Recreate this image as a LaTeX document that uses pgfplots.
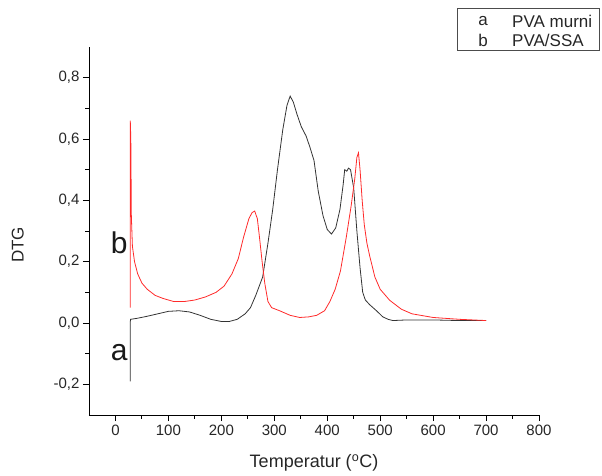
\documentclass[border=0pt]{standalone}
\usepackage{pgfplots}
\pgfplotsset{compat=1.18}
\usetikzlibrary{calc}
\usepackage{fontspec}
\setmainfont{Liberation Sans}
\definecolor{cb}{HTML}{333333}
\definecolor{cr}{HTML}{FF2A2A}
\begin{document}
\begin{tikzpicture}[x=1pt,y=1pt]
\begin{axis}[
  scale only axis, width=450pt, height=368pt,
  xmin=-50, xmax=800, ymin=-0.3, ymax=0.9,
  axis x line*=bottom, axis y line*=left,
  axis line style={line width=0.9pt, black},
  tick align=outside,
  major tick length=6pt, minor tick length=3.5pt,
  every tick/.style={line width=0.9pt, black},
  xtick={0,100,...,800}, minor x tick num=1,
  ytick={-0.2,0,0.2,0.4,0.6,0.8}, minor y tick num=1,
  /pgf/number format/assume math mode=true,
  yticklabel style={/pgf/number format/.cd, fixed, fixed zerofill, precision=1, use comma},
  xticklabel style={/pgf/number format/.cd, fixed, precision=0},
  tick label style={font=\fontsize{15}{17}\selectfont, text=black!85},
  xlabel={Temperatur (\textsuperscript{o}C)},
  ylabel={DTG},
  xlabel style={font=\fontsize{18}{20}\selectfont, at={(rel axis cs:0.50,-0.13)}, anchor=center, text=black!85},
  ylabel style={font=\fontsize{17}{19}\selectfont, at={(rel axis cs:-0.158,0.462)}, anchor=center, rotate=0, text=black!85},
  clip=false,
]
\coordinate (o) at (rel axis cs:0,0);
\addplot[color=cb, line width=0.8pt] coordinates {
(28,-0.19)(28,0.005)(28.5,0.012)(40,0.015)(60,0.022)(80,0.03)(100,0.038)(120,0.04)
(140,0.036)(160,0.025)(180,0.012)(200,0.005)(215,0.005)(230,0.012)(245,0.03)(255,0.05)
(265,0.09)(278,0.15)(288,0.26)(297,0.37)(306,0.5)(316,0.63)(324,0.71)(330,0.74)
(336,0.72)(343,0.68)(351,0.64)(360,0.61)(367,0.575)(375,0.53)(383,0.43)(392,0.35)
(400,0.305)(408,0.29)(416,0.31)(424,0.37)(430,0.45)(433,0.50)(437,0.495)(440,0.505)
(444,0.50)(450,0.44)(456,0.3)(462,0.18)(467,0.1)(472,0.075)(480,0.06)(493,0.04)
(505,0.02)(515,0.012)(524,0.008)(550,0.01)(600,0.01)(650,0.008)(700,0.008)
};
\addplot[color=cr, line width=0.8pt] coordinates {
(28,0.05)(28,0.66)(29,0.6)(30,0.35)(32,0.25)(36,0.2)(42,0.16)(50,0.13)(60,0.11)
(75,0.09)(90,0.08)(110,0.07)(130,0.07)(150,0.075)(170,0.085)(190,0.1)(205,0.12)
(220,0.16)(232,0.21)(242,0.28)(252,0.34)(258,0.36)(263,0.365)(268,0.34)(272,0.28)
(277,0.2)(282,0.13)(288,0.07)(295,0.05)(310,0.04)(330,0.025)(348,0.018)(365,0.02)
(380,0.025)(395,0.04)(405,0.07)(415,0.11)(425,0.17)(436,0.28)(445,0.38)(452,0.47)
(456,0.54)(459,0.555)(462,0.5)(466,0.4)(470,0.32)(475,0.26)(480,0.22)(490,0.15)
(500,0.11)(518,0.074)(540,0.045)(560,0.03)(600,0.018)(650,0.012)(700,0.008)
};
\node[font=\fontsize{30}{32}\selectfont, anchor=center, text=black!90] at (axis cs:7,-0.096) {a};
\node[font=\fontsize{30}{32}\selectfont, anchor=center, text=black!90] at (axis cs:7,0.26) {b};
\end{axis}
\draw[line width=0.6pt, black!70] ($(o)+(368,407)$) rectangle ($(o)+(510,365)$);
\node[font=\fontsize{17}{19}\selectfont, anchor=center, text=black!85] at ($(o)+(394,394)$) {a};
\node[font=\fontsize{17}{19}\selectfont, anchor=center, text=black!85] at ($(o)+(394,375)$) {b};
\node[font=\fontsize{17}{19}\selectfont, anchor=west, inner sep=0pt, text=black!85] at ($(o)+(423,394)$) {PVA murni};
\node[font=\fontsize{17}{19}\selectfont, anchor=west, inner sep=0pt, text=black!85] at ($(o)+(423,375)$) {PVA/SSA};
\path ($(o)+(-89,-60)$) rectangle ($(o)+(513,415)$);
\end{tikzpicture}
\end{document}
